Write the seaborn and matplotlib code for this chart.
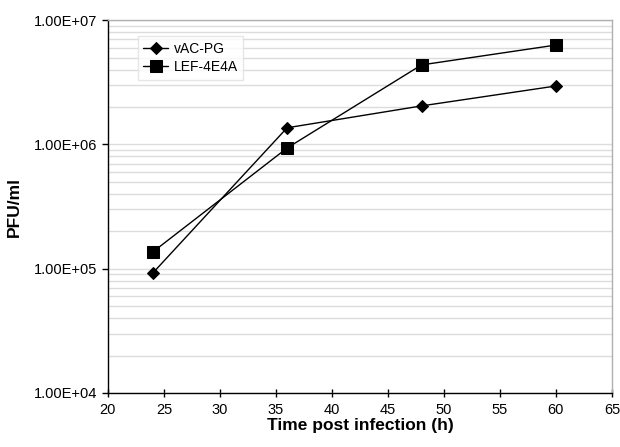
"""Virus titre time course (PFU/ml vs hours post infection)."""

import matplotlib
matplotlib.use("Agg")
import matplotlib.pyplot as plt
import matplotlib.ticker as mticker
import pandas as pd
import seaborn as sns

hours = [24, 36, 48, 60]
vac_pg = [9.2e4, 1.36e6, 2.04e6, 2.95e6]
lef_4e4a = [1.36e5, 9.35e5, 4.36e6, 6.3e6]
series_names = ["vAC-PG", "LEF-4E4A"]

df = pd.DataFrame({
    "hours": hours * 2,
    "pfu": vac_pg + lef_4e4a,
    "virus": [series_names[0]] * 4 + [series_names[1]] * 4,
})

sns.set_style("white")
plt.rcParams["font.family"] = ["Liberation Sans", "DejaVu Sans"]
plt.rcParams["text.color"] = "black"
plt.rcParams["axes.labelcolor"] = "black"
plt.rcParams["xtick.color"] = "black"
plt.rcParams["ytick.color"] = "black"

fig = plt.figure(figsize=(6.2, 4.47), dpi=100)
ax = fig.add_axes([0.174, 0.121, 0.813, 0.834])

sns.lineplot(
    data=df, x="hours", y="pfu", hue="virus", style="virus",
    hue_order=series_names, style_order=series_names,
    palette=["black", "black"], markers=["D", "s"], dashes=False,
    markersize=7, linewidth=1, markeredgecolor="black", ax=ax,
)
# square markers are a bit bigger in the original
for line in ax.get_lines():
    if line.get_marker() == "s":
        line.set_markersize(8.5)
    elif line.get_marker() == "D":
        line.set_markersize(6)

ax.set_yscale("log")
ax.set_ylim(1e4, 1e7)
ax.set_xlim(20, 65)
ax.set_xticks(range(20, 66, 5))
ax.yaxis.set_major_locator(mticker.LogLocator(base=10, numticks=10))
ax.yaxis.set_minor_locator(mticker.LogLocator(base=10, subs=range(2, 10), numticks=10))
ax.yaxis.set_major_formatter(mticker.FuncFormatter(lambda v, _: f"{v:.2E}"))
ax.yaxis.set_minor_formatter(mticker.NullFormatter())

ax.grid(True, which="both", axis="y", color="#dcdcdc", linewidth=1)
ax.set_axisbelow(True)

for side in ["left", "bottom"]:
    ax.spines[side].set_color("black")
    ax.spines[side].set_linewidth(1)
for side in ["top", "right"]:
    ax.spines[side].set_color("#b0b0b0")
    ax.spines[side].set_linewidth(1)

ax.tick_params(axis="x", which="major", direction="inout", length=6, width=1,
               labelsize=10.5, bottom=True, pad=4)
ax.tick_params(axis="y", which="major", direction="out", length=4, width=1,
               labelsize=10.5, left=True)
ax.tick_params(axis="y", which="minor", left=False)

ax.set_xlabel("Time post infection (h)", fontsize=12.5, fontweight="bold", labelpad=1)
ax.set_ylabel("PFU/ml", fontsize=12.5, fontweight="bold", labelpad=9)

leg = ax.legend(loc="upper left", bbox_to_anchor=(0.045, 0.975), frameon=True,
                fancybox=False, edgecolor="#e0e0e0", fontsize=10,
                handlelength=1.8, handletextpad=0.4, borderpad=0.4, labelspacing=0.3)
leg.set_title(None)

fig.savefig("out.png", dpi=100)
